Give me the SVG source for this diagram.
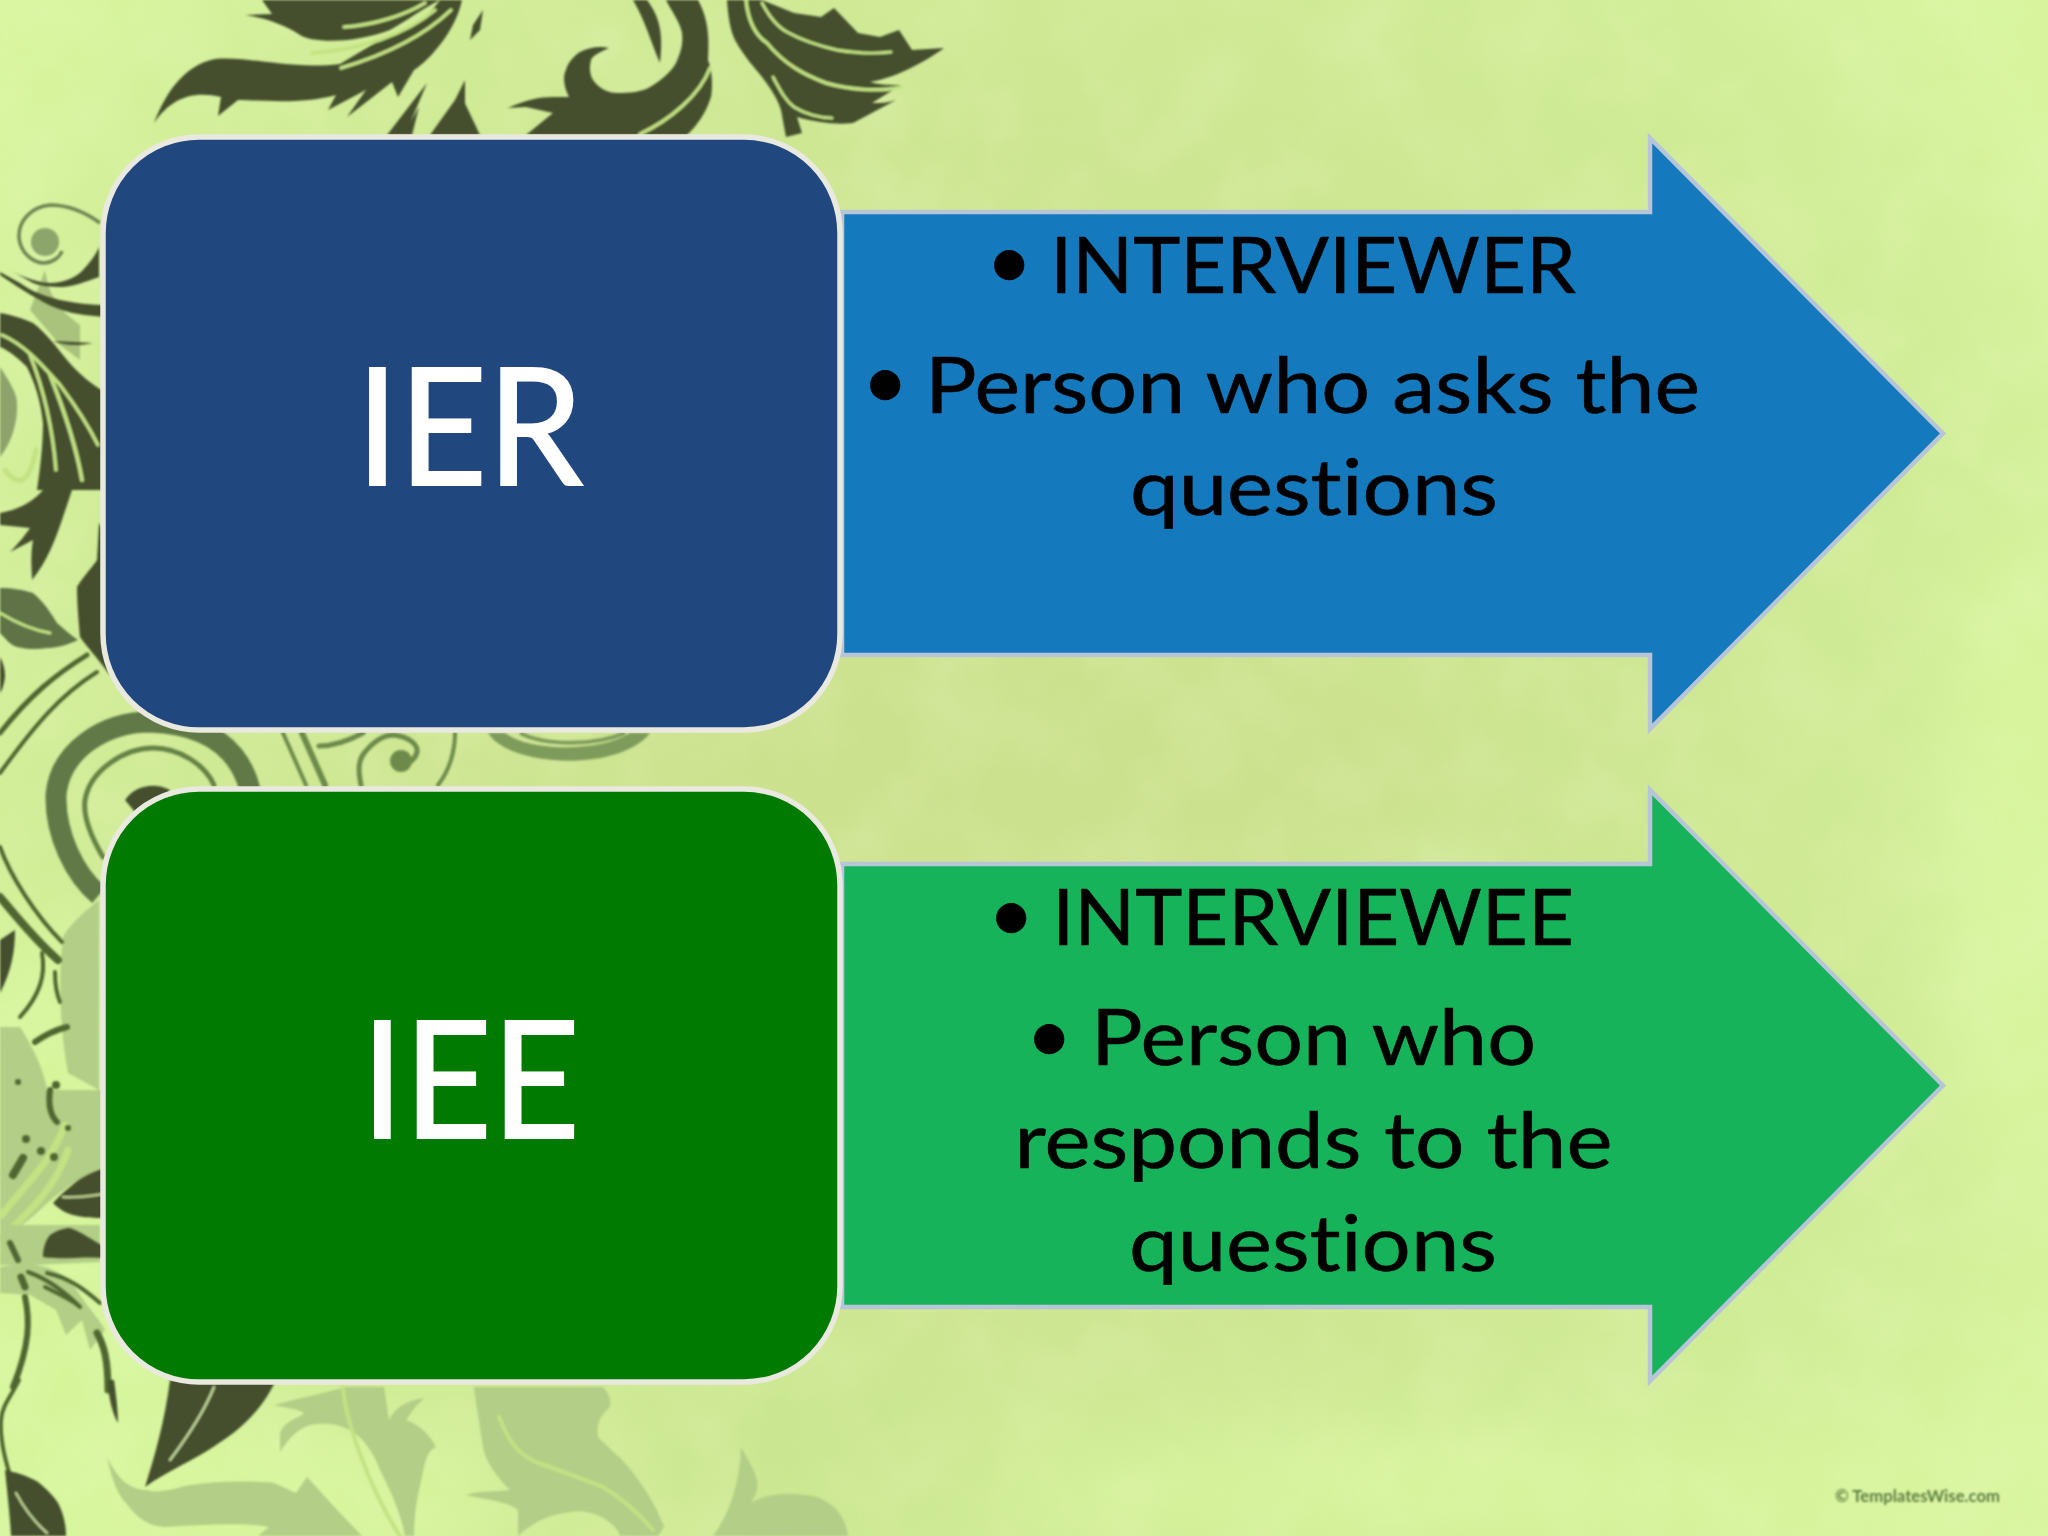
<svg xmlns="http://www.w3.org/2000/svg" width="2048" height="1536" viewBox="0 0 2048 1536">
<style>
.lbl{font-family:"Lato","Carlito","Liberation Sans",sans-serif;font-variant-ligatures:none}
.big{font-size:163px;fill:#fff;stroke:#fff;stroke-width:2}
.t{font-size:78px;fill:#000;stroke:#000;stroke-width:.6}
.bu{font-size:80px;fill:#000}
.d{fill:#454f2f;stroke:none}
.m{fill:#5f7347;stroke:none}
.o{fill:#b3ce86;stroke:none}
.ln{fill:none;stroke:#4f6630;stroke-linecap:round}
.gap{fill:none;stroke:#c3e283;stroke-linecap:round}
.rr{stroke:#e9e9df;stroke-width:5.500}
.ar{stroke:#b6c6d8;stroke-width:4.500;stroke-linejoin:miter}
</style>
<defs>
<radialGradient id="bg" gradientUnits="userSpaceOnUse" cx="1020" cy="740" r="1200">
<stop offset="0" stop-color="#cce28f"/><stop offset="0.5" stop-color="#cde692"/><stop offset="0.82" stop-color="#d1ed97"/><stop offset="1" stop-color="#d8f59e"/>
</radialGradient>
<filter id="soft" x="-5%" y="-5%" width="110%" height="110%"><feGaussianBlur stdDeviation="1.100"/></filter>
<filter id="soft2" x="-5%" y="-50%" width="110%" height="200%"><feGaussianBlur stdDeviation="0.900"/></filter>
<filter id="cloud" x="-30%" y="-30%" width="160%" height="160%"><feGaussianBlur stdDeviation="45"/></filter>
<filter id="mottle" x="0" y="0" width="100%" height="100%">
<feTurbulence type="fractalNoise" baseFrequency="0.012" numOctaves="3" seed="7"/>
<feColorMatrix type="matrix" values="0 0 0 0 0.86  0 0 0 0 0.98  0 0 0 0 0.62  0.9 0 0 0 -0.33"/>
</filter>
</defs>

<g id="background">
<rect width="2048" height="1536" fill="url(#bg)"/>
<g filter="url(#cloud)">
<ellipse cx="40" cy="1250" rx="170" ry="330" fill="#d6f59b"/>
<ellipse cx="250" cy="1500" rx="260" ry="70" fill="#d8f69d"/>
<ellipse cx="1500" cy="1490" rx="520" ry="50" fill="#d9f69e"/>
<ellipse cx="2020" cy="850" rx="70" ry="330" fill="#d9f69f"/>
<ellipse cx="1050" cy="760" rx="420" ry="110" fill="#cce18e"/>
<ellipse cx="800" cy="1440" rx="160" ry="50" fill="#c9e58e"/>
</g>
<rect width="2048" height="1536" filter="url(#mottle)" opacity="0.42"/>
</g>

<g id="ornament-faint" filter="url(#soft)">
<path class="o" d="M107 1457C112 1480 118 1495 126 1503C138 1520 150 1526 165 1527C200 1525 240 1522 269 1527L258 1536H362L340 1513L307 1477L296 1493L274 1483C250 1480 200 1482 181 1487C165 1492 150 1492 148 1490C130 1490 118 1480 107 1457Z"/>
<path class="o" d="M280 1452V1433C285 1420 300 1418 304 1413C295 1408 285 1408 274 1405C300 1398 325 1393 346 1387H384C386 1400 388 1412 389 1420C393 1410 405 1400 425 1398C415 1405 410 1415 406 1420C420 1425 430 1435 436 1447C428 1450 425 1460 422 1477C416 1500 414 1520 414 1536H405C400 1510 390 1490 380 1470C365 1430 340 1420 310 1425C295 1430 288 1440 280 1452Z"/>
<path class="gap" stroke-width="4" d="M343 1387C345 1420 370 1490 400 1536"/>
<path class="o" d="M474 1387H603C610 1395 612 1402 609 1408C600 1415 596 1425 598 1437C610 1450 625 1460 636 1477C650 1495 660 1515 664 1527L658 1536H620C615 1520 590 1508 570 1512C545 1515 530 1525 518 1536V1510C505 1500 485 1500 466 1495C480 1490 495 1492 510 1490C495 1475 485 1460 483 1447C480 1425 476 1405 474 1387Z"/>
<path class="gap" stroke-width="4" d="M499 1417C510 1445 520 1455 538 1463C565 1472 585 1480 603 1487C625 1500 640 1515 653 1530"/>
<path class="o" d="M741 1447C748 1460 755 1470 757 1480C758 1490 756 1495 751 1503C764 1495 785 1490 817 1497C835 1505 845 1515 848 1536H713C725 1520 740 1490 741 1447Z"/>
<path class="o" d="M0 1027H20C35 1050 45 1075 47 1090H0Z"/>
<path class="o" d="M99 900C80 915 70 925 63 937C58 980 60 1030 68 1073L99 1090Z"/>
<path class="o" d="M0 1090H105V1167C85 1175 60 1190 40 1210C25 1225 10 1232 0 1237Z"/>
<path class="gap" stroke-width="7" d="M2 1215C20 1190 50 1165 65 1125"/>
<path class="gap" stroke-width="7" d="M2 1238C25 1215 55 1190 68 1150"/>
<path class="o" d="M0 1267C30 1262 60 1262 80 1295C90 1310 100 1320 105 1330L90 1350L82 1320L66 1335L56 1310L30 1295L0 1293Z"/>
<path class="o" d="M0 1225H100V1262L30 1265H0Z"/>
<path class="o" d="M0 367C12 385 17 395 17 403C18 425 10 445 0 457Z" style="fill:#8ea36c"/>
<path class="o" d="M45 270C50 300 60 310 80 325V360L60 345L30 310Z" style="fill:#a9c27c"/>
<circle cx="45" cy="242" r="14" fill="#8ca56b"/>
<path d="M100 223C85 212 67 205 50 205C30 207 18 222 19 238C21 255 35 263 44 263C52 263 60 257 62 251" fill="none" stroke="#6d8452" stroke-width="3.500"/>
</g>

<g id="ornament-dark" filter="url(#soft)">
<path class="d" d="M154 123C165 95 182 66 215 59C250 56 290 70 340 64L380 40C410 30 430 15 440 0H462C456 30 430 60 414 70L398 97L392 82L347 117L366 90L328 110L336 95C300 105 260 100 238 100L218 116L221 97C190 90 170 100 154 123Z"/>
<path class="d" d="M245 15L272 14L262 0H440C420 10 405 22 390 30C350 45 310 42 300 35C285 25 265 18 245 15Z"/>
<path class="gap" stroke-width="3.500" d="M344 27C375 25 405 15 425 3"/>
<path class="gap" stroke-width="3.500" d="M312 53C360 50 405 35 435 10"/>
<path class="gap" stroke-width="3.500" d="M341 68C385 55 425 35 451 10"/>
<path class="d" d="M387 135L427 83L405 135ZM403 135L419 107L412 135ZM430 135L455 100L465 80L465 135ZM465 135L462 97L480 135Z"/>
<path class="d" d="M473 25L483 10L480 30L470 40Z"/>
<path class="d" d="M633 0H647C658 15 664 30 660 63C652 45 645 20 633 0Z"/>
<path class="d" d="M666 0H698C706 15 710 30 708 60C712 70 713 85 711 97C705 115 697 125 687 135H526L553 113L526 107L508 108C525 100 540 97 553 97H569C563 85 563 75 566 70C568 62 575 55 580 52C590 47 600 46 609 48C600 52 592 56 591 60C589 68 590 75 593 80C600 90 610 93 617 93C630 93 642 92 650 87C665 78 672 70 676 63C682 50 683 42 682 33C680 22 672 12 666 0Z"/>
<path class="gap" stroke-width="3.500" d="M710 68C700 95 670 120 640 134"/>
<path class="d" d="M727 0C728 15 730 30 735 40C745 58 755 68 762 77C772 90 778 100 781 110L786 137L802 133L797 117C815 122 835 125 853 123L896 100C888 103 880 103 872 103L901 85C890 85 880 85 870 82C895 78 925 62 944 48L912 50L899 30L880 37L858 33L834 8L821 17L794 13L762 0Z"/>
<path class="gap" stroke-width="3.500" d="M746 0C748 20 755 35 767 43C785 65 805 75 826 83C850 90 880 92 901 87"/>
<path class="gap" stroke-width="3" d="M762 3C770 18 778 28 789 33C805 42 820 46 837 50C855 53 875 54 891 52"/>
<path class="gap" stroke-width="3" d="M773 77C780 90 785 100 794 107C805 114 820 118 832 118"/>
<path class="d" d="M13 272C25 278 40 283 50 283C65 283 78 276 83 270C90 262 96 255 99 247V277C85 282 75 286 63 287C50 287 40 286 33 283Z"/>
<path class="d" d="M0 275C15 285 28 294 40 300C60 312 80 316 110 317V305C90 305 75 303 60 300C40 295 30 290 20 283L0 272Z"/>
<path class="d" d="M53 341C65 342 80 342 93 343C80 346 65 346 53 341Z"/>
<path class="d" d="M0 313C12 315 24 319 33 323C45 332 55 345 67 360C80 375 92 385 110 395V540L99 523L97 560C90 570 82 578 77 587C77 605 79 625 80 637C88 648 95 655 110 675V490H72L62 520C55 540 48 560 32 580C32 570 30 558 33 540L10 552C20 542 25 535 30 528L0 525V513C15 510 30 505 43 490H37C40 470 43 445 43 423C40 395 33 380 27 367C18 358 8 350 0 347Z"/>
<path class="gap" stroke-width="3.500" d="M2 335C25 345 42 365 60 385C75 405 88 425 98 445"/>
<path class="gap" stroke-width="3.500" d="M30 355C40 380 52 420 56 470"/>
<path class="gap" stroke-width="4" d="M50 375C60 400 75 440 82 480"/>
<path class="gap" stroke-width="5" d="M5 470C20 490 30 480 36 450"/>
<path class="m" d="M0 588C12 588 24 590 33 593C45 603 52 615 57 623C65 630 72 636 78 640C65 646 55 648 47 648C35 650 25 649 17 647C10 645 5 638 0 633Z"/>
<path class="gap" stroke-width="3" d="M0 613C15 622 32 630 50 633"/>
<path class="d" d="M0 657C4 665 5 670 5 677C4 685 2 690 0 693Z"/>
<path class="ln" stroke-width="5" d="M0 733C30 695 55 675 87 655"/>
<path class="ln" stroke-width="4" d="M0 773C35 725 60 695 97 672"/>
<path style="fill:none;stroke:#617947;stroke-width:21" d="M99 895C75 875 55 835 56 795C60 750 105 722 150 722C210 724 240 750 250 790"/>
<path class="ln" stroke-width="5" d="M103 857C90 835 83 815 85 800C90 770 125 748 153 748C180 748 205 765 214 785" style="stroke:#658245"/>
<g style="stroke:#6d8a4c">
<path class="ln" style="stroke:inherit" stroke-width="4" d="M283 733L306 785"/>
<path class="ln" style="stroke:inherit" stroke-width="6" d="M302 733L325 785"/>
<path class="ln" style="stroke:inherit" stroke-width="5" d="M319 746C335 746 350 740 363 733"/>
<path class="ln" style="stroke:inherit" stroke-width="5" d="M361 785C358 770 358 760 365 752C375 740 385 735 394 735C410 737 418 745 417 752C416 758 412 760 410 762"/>
<path class="ln" style="stroke:inherit" stroke-width="4" d="M455 733C455 750 450 770 438 785"/>
</g>
<circle cx="401" cy="761" r="11" fill="#6d8a4c"/>
<path d="M488 733C510 768 620 772 650 733H630C600 752 530 752 505 733Z" fill="#7e9b5c"/>
<path d="M520 733C545 746 595 746 625 733" fill="none" stroke="#7e9b5c" stroke-width="4"/>
<path class="d" d="M125 800C135 785 155 782 170 790L150 830Z"/>
<path class="ln" stroke-width="4" d="M0 847C10 875 35 915 62 942"/>
<path class="ln" stroke-width="8" d="M0 897C15 915 35 940 58 960"/>
<path class="d" d="M15 930C15 950 12 970 0 993V940Z"/>
<path class="ln" stroke-width="4" d="M42 953C46 975 40 995 20 1017"/>
<path class="ln" stroke-width="4" d="M55 972C55 985 57 995 60 1002"/>
<path class="ln" stroke-width="6" d="M35 1042C45 1035 55 1030 67 1027"/>
<path class="ln" stroke-width="6" d="M50 1090C48 1105 50 1115 57 1122"/>
<path class="ln" stroke-width="8" d="M23 1158L13 1175"/>
<g fill="#4f6630"><circle cx="26" cy="1139" r="4"/><circle cx="41" cy="1151" r="4"/><circle cx="54" cy="1157" r="4"/><circle cx="68" cy="1128" r="3"/><circle cx="18" cy="1082" r="3"/><circle cx="56" cy="1085" r="4"/></g>
<path class="d" d="M105 1168C90 1172 80 1178 70 1187C63 1192 58 1198 53 1203C60 1210 66 1213 73 1215C85 1218 95 1218 105 1218Z"/>
<path class="gap" stroke-width="2.500" d="M63 1197C75 1198 90 1196 103 1194" style="stroke:#b9cd90"/>
<path class="d" d="M43 1257C43 1247 46 1240 50 1235C58 1230 64 1228 70 1228C82 1232 92 1240 105 1247V1258C85 1256 60 1260 43 1257Z"/>
<path class="ln" stroke-width="6" d="M10 1243L18 1260"/>
<path class="ln" stroke-width="7" d="M21 1277L25 1287"/>
<path class="ln" stroke-width="6" d="M25 1297C30 1320 30 1345 13 1387"/>
<path class="ln" stroke-width="4" d="M28 1272C50 1280 68 1295 80 1307"/>
<path class="ln" stroke-width="4" d="M47 1273C70 1278 85 1290 100 1303"/>
<path class="ln" stroke-width="4" d="M45 1287C55 1292 68 1298 78 1305"/>
<path class="ln" stroke-width="7" d="M97 1333C104 1345 108 1360 108 1390"/>
<path class="d" d="M108 1380L114 1380C116 1395 118 1410 118 1423C112 1413 108 1395 108 1380Z"/>
<path class="d" d="M170 1380H276C262 1410 240 1430 219 1443C195 1460 165 1472 145 1487C155 1455 165 1420 170 1380Z"/>
<path class="gap" stroke-width="2.500" d="M214 1387C205 1410 185 1440 170 1460" style="stroke:#c3d699"/>
<path class="ln" stroke-width="4" d="M19 1380C12 1395 2 1405 1 1420C0 1435 2 1450 10 1475"/>
<path class="d" d="M5 1470C15 1472 28 1476 38 1482C48 1490 55 1498 58 1503C64 1515 66 1525 66 1536H11C10 1515 7 1490 5 1470Z"/>
<path class="gap" stroke-width="2.500" d="M16 1493C25 1510 38 1525 47 1533" style="stroke:#bdd193"/>
</g>

<text class="lbl" id="watermark" x="1835" y="1502" font-size="17" font-weight="700" fill="#5f7d45" textLength="165" lengthAdjust="spacingAndGlyphs" filter="url(#soft2)">© TemplatesWise.com</text>

<g id="arrow-ier">
<path class="ar" fill="#157abd" d="M842 212H1650V138L1943 433.500L1650 729V655H842Z"/>
<text class="lbl t"><tspan class="bu" x="986" y="289">•</tspan><tspan x="1050" y="293" textLength="526" lengthAdjust="spacingAndGlyphs">INTERVIEWER</tspan></text>
<text class="lbl t"><tspan class="bu" x="862" y="409">•</tspan><tspan x="925" y="413" textLength="775" lengthAdjust="spacingAndGlyphs">Person who asks the</tspan></text>
<text class="lbl t" x="1130" y="515" textLength="368" lengthAdjust="spacingAndGlyphs">questions</text>
</g>

<g id="node-ier">
<rect class="rr" x="103" y="137" width="737" height="593" rx="96" fill="#20487f"/>
<text class="lbl big" x="356" y="485" textLength="227" lengthAdjust="spacingAndGlyphs">IER</text>
</g>

<g id="arrow-iee">
<path class="ar" fill="#17b35a" d="M842 864H1650V790L1943 1085.500L1650 1381V1307H842Z"/>
<text class="lbl t"><tspan class="bu" x="988" y="942">•</tspan><tspan x="1052" y="944.500" textLength="522" lengthAdjust="spacingAndGlyphs">INTERVIEWEE</tspan></text>
<text class="lbl t"><tspan class="bu" x="1026" y="1063">•</tspan><tspan x="1091" y="1065" textLength="445" lengthAdjust="spacingAndGlyphs">Person who</tspan></text>
<text class="lbl t" x="1014.500" y="1168" textLength="598" lengthAdjust="spacingAndGlyphs">responds to the</text>
<text class="lbl t" x="1129" y="1271" textLength="368" lengthAdjust="spacingAndGlyphs">questions</text>
</g>

<g id="node-iee">
<rect class="rr" x="103" y="789" width="737" height="593" rx="96" fill="#007a00"/>
<text class="lbl big" x="361" y="1138" textLength="219" lengthAdjust="spacingAndGlyphs">IEE</text>
</g>
</svg>
